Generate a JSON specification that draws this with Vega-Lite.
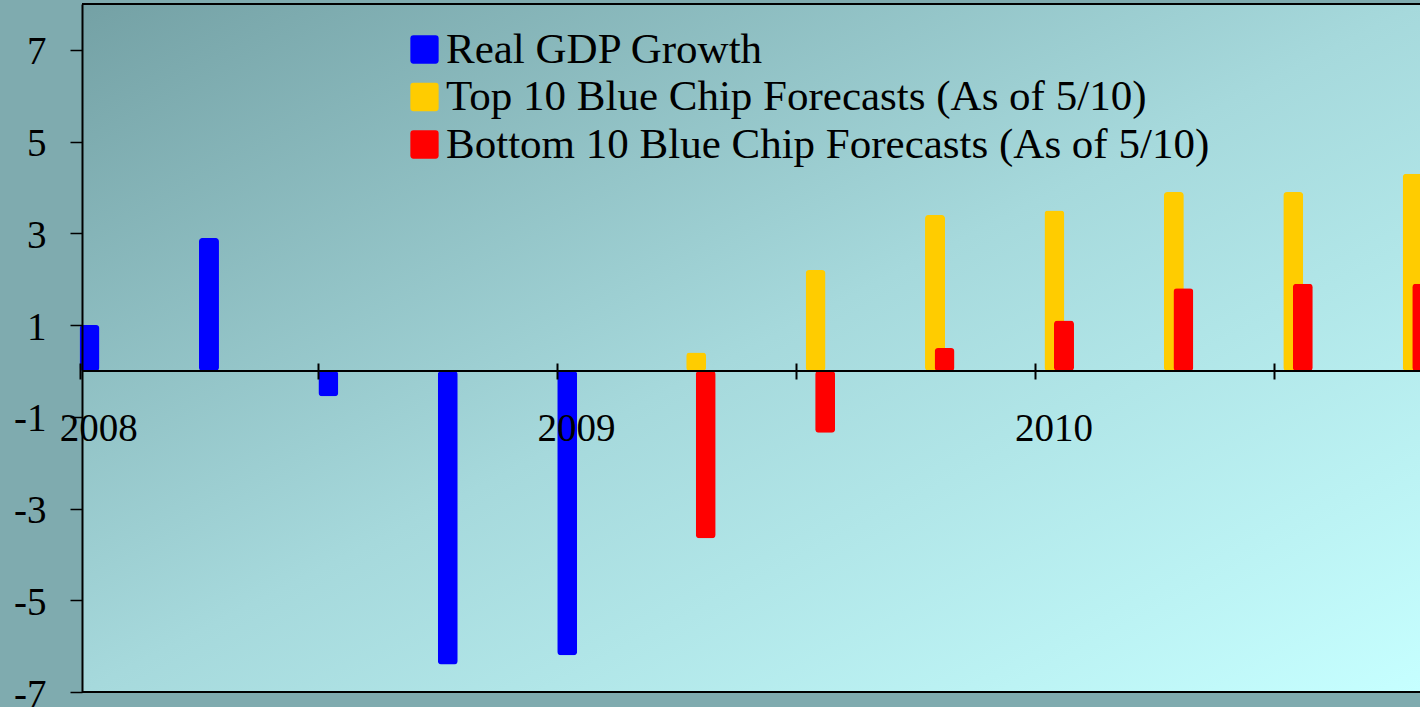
{
  "$schema": "https://vega.github.io/schema/vega-lite/v6.json",
  "width": 1338,
  "height": 688,
  "autosize": {"type": "none"},
  "padding": {"left": 82, "top": 4, "right": 0, "bottom": 15},
  "background": "#7fabaf",
  "config": {
    "view": {
      "stroke": null,
      "fill": {
        "gradient": "linear",
        "x1": 0, "y1": 0, "x2": 1, "y2": 1,
        "stops": [
          {"offset": 0, "color": "#74a1a5"},
          {"offset": 0.5, "color": "#a6d9dc"},
          {"offset": 1, "color": "#c6ffff"}
        ]
      }
    },
    "font": "Liberation Serif"
  },
  "data": {
    "values": [
      {"quarter": "2008 Q1", "series": "Real GDP Growth", "growth": 1.0},
      {"quarter": "2008 Q2", "series": "Real GDP Growth", "growth": 2.9},
      {"quarter": "2008 Q3", "series": "Real GDP Growth", "growth": -0.55},
      {"quarter": "2008 Q4", "series": "Real GDP Growth", "growth": -6.4},
      {"quarter": "2009 Q1", "series": "Real GDP Growth", "growth": -6.2},
      {"quarter": "2009 Q2", "series": "Top 10 Blue Chip Forecasts (As of 5/10)", "growth": 0.4},
      {"quarter": "2009 Q3", "series": "Top 10 Blue Chip Forecasts (As of 5/10)", "growth": 2.2},
      {"quarter": "2009 Q4", "series": "Top 10 Blue Chip Forecasts (As of 5/10)", "growth": 3.4},
      {"quarter": "2010 Q1", "series": "Top 10 Blue Chip Forecasts (As of 5/10)", "growth": 3.5},
      {"quarter": "2010 Q2", "series": "Top 10 Blue Chip Forecasts (As of 5/10)", "growth": 3.9},
      {"quarter": "2010 Q3", "series": "Top 10 Blue Chip Forecasts (As of 5/10)", "growth": 3.9},
      {"quarter": "2010 Q4", "series": "Top 10 Blue Chip Forecasts (As of 5/10)", "growth": 4.3},
      {"quarter": "2009 Q2", "series": "Bottom 10 Blue Chip Forecasts (As of 5/10)", "growth": -3.65},
      {"quarter": "2009 Q3", "series": "Bottom 10 Blue Chip Forecasts (As of 5/10)", "growth": -1.35},
      {"quarter": "2009 Q4", "series": "Bottom 10 Blue Chip Forecasts (As of 5/10)", "growth": 0.5},
      {"quarter": "2010 Q1", "series": "Bottom 10 Blue Chip Forecasts (As of 5/10)", "growth": 1.1},
      {"quarter": "2010 Q2", "series": "Bottom 10 Blue Chip Forecasts (As of 5/10)", "growth": 1.8},
      {"quarter": "2010 Q3", "series": "Bottom 10 Blue Chip Forecasts (As of 5/10)", "growth": 1.9},
      {"quarter": "2010 Q4", "series": "Bottom 10 Blue Chip Forecasts (As of 5/10)", "growth": 1.9}
    ]
  },
  "layer": [
    {
      "mark": {"type": "bar", "width": 20, "cornerRadius": 3.5},
      "encoding": {
        "x": {
          "field": "quarter",
          "type": "ordinal",
          "scale": {
            "domain": ["2008 Q1", "2008 Q2", "2008 Q3", "2008 Q4", "2009 Q1", "2009 Q2", "2009 Q3", "2009 Q4", "2010 Q1", "2010 Q2", "2010 Q3", "2010 Q4"],
            "range": [-2, 1431],
            "paddingInner": 0,
            "paddingOuter": 0
          },
          "axis": {
            "title": null,
            "orient": "bottom",
            "offset": -329,
            "zindex": 1,
            "domain": false,
            "bandPosition": 0,
            "tickSize": 16,
            "tickWidth": 2,
            "tickColor": "black",
            "tickOpacity": {
              "condition": {"test": "indexof(datum.value, 'Q1') >= 0 || indexof(datum.value, 'Q3') >= 0", "value": 1},
              "value": 0
            },
            "labelExpr": "indexof(datum.value, 'Q1') >= 0 ? slice(datum.value, 0, 4) : ''",
            "labelAngle": 0,
            "labelFont": "Liberation Serif",
            "labelFontSize": 39,
            "labelColor": "black",
            "labelPadding": 30,
            "labelOffset": -41,
            "labelOverlap": false,
            "labelBound": false,
            "labelFlush": false,
            "grid": false
          }
        },
        "xOffset": {
          "field": "series",
          "type": "nominal",
          "scale": {
            "domain": ["Real GDP Growth", "Top 10 Blue Chip Forecasts (As of 5/10)", "Bottom 10 Blue Chip Forecasts (As of 5/10)", "gap 1", "gap 2", "gap 3", "gap 4", "gap 5", "gap 6", "gap 7", "gap 8", "gap 9"],
            "paddingInner": 0,
            "paddingOuter": 0.25,
            "align": 1
          }
        },
        "y": {
          "field": "growth",
          "type": "quantitative",
          "scale": {"domain": [-7, 8], "nice": false, "zero": false},
          "axis": {
            "title": null,
            "values": [-7, -5, -3, -1, 1, 3, 5, 7],
            "labelExpr": "'' + datum.value",
            "grid": false,
            "domain": true,
            "domainColor": "black",
            "domainWidth": 2,
            "zindex": 1,
            "tickColor": "black",
            "tickSize": 12,
            "tickWidth": 1.5,
            "labelFont": "Liberation Serif",
            "labelFontSize": 39,
            "labelColor": "black",
            "labelPadding": 24,
            "labelOffset": 2
          }
        },
        "color": {
          "field": "series",
          "type": "nominal",
          "scale": {
            "domain": ["Real GDP Growth", "Top 10 Blue Chip Forecasts (As of 5/10)", "Bottom 10 Blue Chip Forecasts (As of 5/10)"],
            "range": ["#0000ff", "#ffcc00", "#ff0000"]
          },
          "legend": {
            "title": null,
            "orient": "none",
            "legendX": 321,
            "legendY": 24,
            "padding": 0,
            "symbolType": "M-1,-0.78Q-1,-1,-0.78,-1L0.78,-1Q1,-1,1,-0.78L1,0.78Q1,1,0.78,1L-0.78,1Q-1,1,-1,0.78Z",
            "symbolSize": 800,
            "symbolStrokeWidth": 0,
            "symbolOpacity": 1,
            "labelFont": "Liberation Serif",
            "labelFontSize": 43,
            "labelColor": "black",
            "labelOffset": 0,
            "labelLimit": 1200,
            "rowPadding": 3.5
          }
        }
      }
    },
    {
      "data": {"values": [{"level": -7}, {"level": 0}, {"level": 8}]},
      "mark": {"type": "rule", "color": "black", "strokeWidth": 2},
      "encoding": {
        "y": {"field": "level", "type": "quantitative"}
      }
    }
  ]
}
